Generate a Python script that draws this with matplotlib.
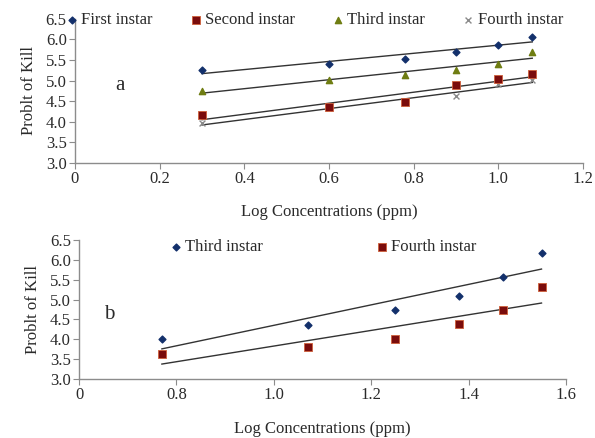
import numpy as np
import matplotlib
matplotlib.use("Agg")
import matplotlib.pyplot as plt

plt.rcParams['font.family'] = ['Liberation Serif', 'DejaVu Serif']

# ---- panel a data
conc_a = [0.3, 0.6, 0.78, 0.9, 1.0, 1.08]
first_a = [5.26, 5.41, 5.53, 5.70, 5.87, 6.07]
second_a = [4.17, 4.36, 4.48, 4.90, 5.04, 5.17]
third_a = [4.75, 5.02, 5.14, 5.26, 5.41, 5.70]
fourth_a = [3.97, 4.33, 4.45, 4.63, 4.92, 5.02]

# ---- panel b data
conc_b = [0.77, 1.07, 1.25, 1.38, 1.47, 1.55]
third_b = [4.01, 4.36, 4.74, 5.09, 5.57, 6.17]
fourth_b = [3.63, 3.81, 4.01, 4.39, 4.74, 5.32]

yticks = [3.0, 3.5, 4.0, 4.5, 5.0, 5.5, 6.0, 6.5]
xticks_a = [0, 0.2, 0.4, 0.6, 0.8, 1.0, 1.2]
xlabels_a = ['0', '0.2', '0.4', '0.6', '0.8', '1.0', '1.2']
xticks_b = [0.6, 0.8, 1.0, 1.2, 1.4, 1.6]
xlabels_b = ['0', '0.8', '1.0', '1.2', '1.4', '1.6']

navy = '#13306b'
darkred = '#7a0c0c'
olive = '#6f7d12'
grey = '#8a8a8a'
axcol = '#8c8c8c'
txt = '#2a2a2a'

fig = plt.figure(figsize=(5.95, 4.38), dpi=100)
ax1 = fig.add_axes([0.126, 0.628, 0.854, 0.329])
ax2 = fig.add_axes([0.133, 0.135, 0.818, 0.317])


def trend(ax, x, y):
    k, b = np.polyfit(x, y, 1)
    xs = np.array([x[0], x[-1]])
    ax.plot(xs, k * xs + b, color='#333333', lw=1.0, zorder=2)


def style(ax):
    for s in ['top', 'right']:
        ax.spines[s].set_visible(False)
    for s in ['left', 'bottom']:
        ax.spines[s].set_color(axcol)
        ax.spines[s].set_linewidth(1.0)
    ax.tick_params(direction='out', length=4, color=axcol, labelsize=12,
                   labelcolor=txt, pad=2)
    ax.set_yticks(yticks)
    ax.set_yticklabels(['%.1f' % v for v in yticks])
    ax.set_ylim(3.0, 6.5)
    ax.set_ylabel('Problt of Kill', fontsize=12, color=txt, labelpad=6)


# panel a
ax1.scatter(conc_a, first_a, marker='D', s=12, color=navy, zorder=3, label='First instar')
ax1.scatter(conc_a, second_a, marker='s', s=26, color=darkred, edgecolor='#d0603a',
            linewidth=0.6, zorder=4, label='Second instar')
ax1.scatter(conc_a, third_a, marker='^', s=20, color=olive, zorder=3, label='Third instar')
ax1.scatter(conc_a, fourth_a, marker='x', s=18, color=grey, linewidth=1.0, zorder=3,
            label='Fourth instar')
for ys in [first_a, second_a, third_a, fourth_a]:
    trend(ax1, conc_a, ys)
style(ax1)
ax1.set_xlim(0, 1.2)
ax1.set_xticks(xticks_a)
ax1.set_xticklabels(xlabels_a)
ax1.set_xlabel('Log Concentrations (ppm)', fontsize=12, color=txt, labelpad=12)
ax1.text(0.095, 4.78, 'a', fontsize=15, color=txt)
ax1.legend(loc='center left', bbox_to_anchor=(-0.015, 0.99), ncol=4, frameon=False,
           fontsize=12, handlelength=0.5, handletextpad=0.3, columnspacing=2.35,
           borderaxespad=0, borderpad=0, labelcolor=txt)

# panel b
ax2.scatter(conc_b, third_b, marker='D', s=12, color=navy, zorder=3, label='Third instar')
ax2.scatter(conc_b, fourth_b, marker='s', s=30, color=darkred, edgecolor='#d0603a',
            linewidth=0.6, zorder=3, label='Fourth instar')
trend(ax2, conc_b, third_b)
trend(ax2, conc_b, fourth_b)
style(ax2)
ax2.set_xlim(0.6, 1.6)
ax2.set_xticks(xticks_b)
ax2.set_xticklabels(xlabels_b)
ax2.set_xlabel('Log Concentrations (ppm)', fontsize=12, color=txt, labelpad=13)
ax2.text(0.652, 4.5, 'b', fontsize=15, color=txt)
ax2.legend(loc='center left', bbox_to_anchor=(0.19, 0.95), ncol=2, frameon=False,
           fontsize=12, handlelength=0.5, handletextpad=0.3, columnspacing=6.9,
           borderaxespad=0, borderpad=0, labelcolor=txt)

fig.savefig('out.png', dpi=100, facecolor='white')
